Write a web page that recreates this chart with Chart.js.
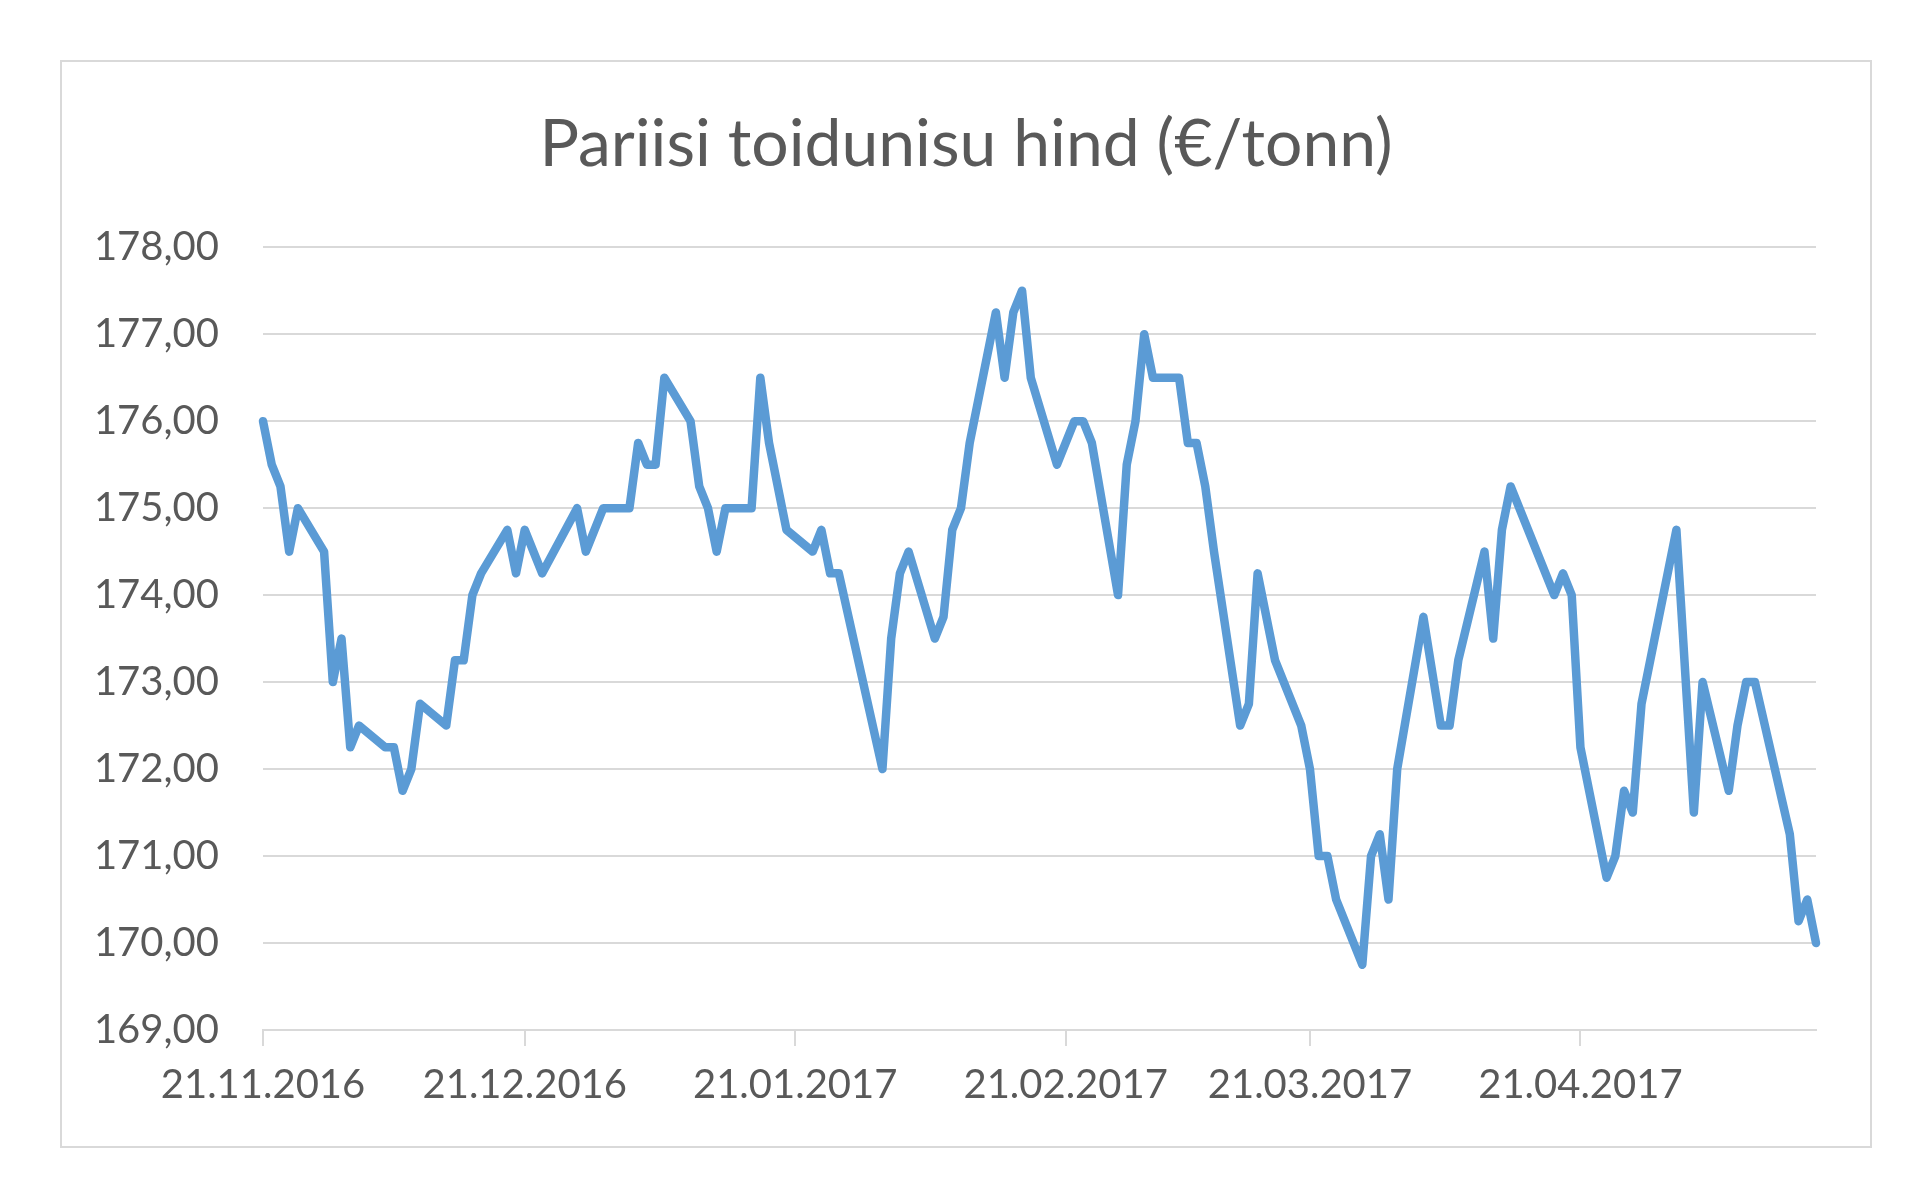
<!DOCTYPE html>
<html>
<head>
<meta charset="utf-8">
<script src="https://cdn.jsdelivr.net/npm/chart.js@4"></script>
<style>
    html, body { margin: 0; padding: 0; background: #fff; }
    #frame {
        position: absolute; left: 60px; top: 60px;
        width: 1812px; height: 1088px;
        border: 2px solid #d9d9d9; box-sizing: border-box;
    }
</style>
</head>
<body>
<div id="frame"><canvas id="priceChart"></canvas></div>
<script>
const chartTitle = 'Pariisi toidunisu hind (€/tonn)';

// x positions of the tick labels
const tickLabels = ['21.11.2016', '21.12.2016', '21.01.2017', '21.02.2017', '21.03.2017', '21.04.2017'];

// dates of the price points (turning points of the line)
const dates = [
    '21.11.2016', '22.11.2016', '23.11.2016', '24.11.2016', '25.11.2016',
    '28.11.2016', '29.11.2016', '30.11.2016', '01.12.2016', '02.12.2016',
    '05.12.2016', '06.12.2016', '07.12.2016', '08.12.2016', '09.12.2016',
    '12.12.2016', '13.12.2016', '14.12.2016', '15.12.2016', '16.12.2016',
    '19.12.2016', '20.12.2016', '21.12.2016', '23.12.2016', '27.12.2016',
    '28.12.2016', '30.12.2016', '02.01.2017', '03.01.2017', '04.01.2017',
    '05.01.2017', '06.01.2017', '09.01.2017', '10.01.2017', '11.01.2017',
    '12.01.2017', '13.01.2017', '16.01.2017', '17.01.2017', '18.01.2017',
    '20.01.2017', '23.01.2017', '24.01.2017', '25.01.2017', '26.01.2017',
    '31.01.2017', '01.02.2017', '02.02.2017', '03.02.2017', '06.02.2017',
    '07.02.2017', '08.02.2017', '09.02.2017', '10.02.2017', '13.02.2017',
    '14.02.2017', '15.02.2017', '16.02.2017', '17.02.2017', '20.02.2017',
    '22.02.2017', '23.02.2017', '24.02.2017', '27.02.2017', '28.02.2017',
    '01.03.2017', '02.03.2017', '03.03.2017', '06.03.2017', '07.03.2017',
    '08.03.2017', '09.03.2017', '10.03.2017', '13.03.2017', '14.03.2017',
    '15.03.2017', '17.03.2017', '20.03.2017', '21.03.2017', '22.03.2017',
    '23.03.2017', '24.03.2017', '27.03.2017', '28.03.2017', '29.03.2017',
    '30.03.2017', '31.03.2017', '03.04.2017', '05.04.2017', '06.04.2017',
    '07.04.2017', '10.04.2017', '11.04.2017', '12.04.2017', '13.04.2017',
    '18.04.2017', '19.04.2017', '20.04.2017', '21.04.2017', '24.04.2017',
    '25.04.2017', '26.04.2017', '27.04.2017', '28.04.2017', '02.05.2017',
    '04.05.2017', '05.05.2017', '08.05.2017', '09.05.2017', '10.05.2017',
    '11.05.2017', '15.05.2017', '16.05.2017', '17.05.2017', '18.05.2017'
];

const prices = [
    176.00, 175.50, 175.25, 174.50, 175.00,
    174.50, 173.00, 173.50, 172.25, 172.50,
    172.25, 172.25, 171.75, 172.00, 172.75,
    172.50, 173.25, 173.25, 174.00, 174.25,
    174.75, 174.25, 174.75, 174.25, 175.00,
    174.50, 175.00, 175.00, 175.75, 175.50,
    175.50, 176.50, 176.00, 175.25, 175.00,
    174.50, 175.00, 175.00, 176.50, 175.75,
    174.75, 174.50, 174.75, 174.25, 174.25,
    172.00, 173.50, 174.25, 174.50, 173.50,
    173.75, 174.75, 175.00, 175.75, 177.25,
    176.50, 177.25, 177.50, 176.50, 175.50,
    176.00, 176.00, 175.75, 174.00, 175.50,
    176.00, 177.00, 176.50, 176.50, 175.75,
    175.75, 175.25, 174.50, 172.50, 172.75,
    174.25, 173.25, 172.50, 172.00, 171.00,
    171.00, 170.50, 169.75, 171.00, 171.25,
    170.50, 172.00, 173.75, 172.50, 172.50,
    173.25, 174.50, 173.50, 174.75, 175.25,
    174.00, 174.25, 174.00, 172.25, 170.75,
    171.00, 171.75, 171.50, 172.75, 174.75,
    171.50, 173.00, 171.75, 172.50, 173.00,
    173.00, 171.25, 170.25, 170.50, 170.00
];

const yMin = 169;
const yMax = 178;

// days since the first date, for a linear x scale
function dayOf(str) {
    const [d, m, y] = str.split('.').map(Number);
    const [d0, m0, y0] = dates[0].split('.').map(Number);
    return Math.round((Date.UTC(y, m - 1, d) - Date.UTC(y0, m0 - 1, d0)) / 86400000);
}

const points = dates.map((d, i) => ({ x: dayOf(d), y: prices[i] }));
const tickDays = tickLabels.map(dayOf);

const textColor = '#595959';
const gridColor = '#d9d9d9';
const fontFamily = 'Lato, "Open Sans", sans-serif';

new Chart(document.getElementById('priceChart'), {
    type: 'line',
    data: {
        datasets: [{
            data: points,
            borderColor: '#5b9bd5',
            borderWidth: 8.5,
            borderJoinStyle: 'round',
            borderCapStyle: 'round',
            pointRadius: 0,
            tension: 0,
            fill: false,
            clip: false
        }]
    },
    options: {
        responsive: true,
        maintainAspectRatio: false,
        animation: false,
        layout: { padding: 0 },
        plugins: {
            legend: { display: false },
            tooltip: { enabled: false },
            title: {
                display: true,
                text: chartTitle,
                color: textColor,
                font: { family: fontFamily, size: 66, weight: 'normal' },
                padding: { top: 43, bottom: 63 }
            }
        },
        scales: {
            x: {
                type: 'linear',
                min: 0,
                max: dayOf(dates[dates.length - 1]),
                afterBuildTicks: scale => {
                    scale.ticks = tickDays.map(v => ({ value: v }));
                },
                afterFit: scale => { scale.height = 116; },
                ticks: {
                    autoSkip: false,
                    maxRotation: 0,
                    color: textColor,
                    font: { family: fontFamily, size: 40 },
                    padding: 15,
                    callback: value => tickLabels[tickDays.indexOf(value)] || ''
                },
                grid: {
                    drawOnChartArea: false,
                    drawTicks: true,
                    tickLength: 16,
                    color: gridColor,
                    lineWidth: 2
                },
                border: { display: true, color: gridColor, width: 2 }
            },
            y: {
                min: yMin,
                max: yMax,
                afterFit: scale => { scale.width = 201; },
                ticks: {
                    stepSize: 1,
                    color: textColor,
                    font: { family: fontFamily, size: 40 },
                    padding: 44,
                    callback: value => value.toFixed(2).replace('.', ',')
                },
                grid: {
                    color: gridColor,
                    lineWidth: 2,
                    drawTicks: false
                },
                border: { display: false }
            },
            // empty right-hand axis: only reserves the gap after the plot
            gap: {
                type: 'linear',
                position: 'right',
                afterFit: scale => { scale.width = 54; },
                ticks: { display: false },
                grid: { display: false, drawTicks: false },
                border: { display: false }
            }
        }
    }
});
</script>
</body>
</html>
